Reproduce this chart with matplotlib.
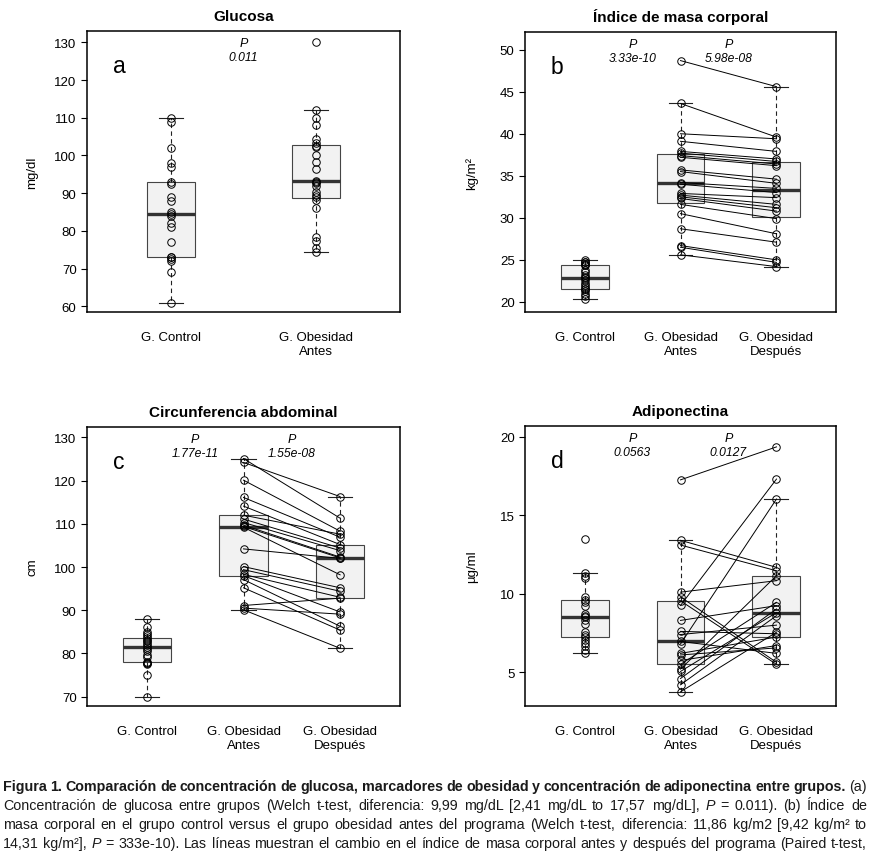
import matplotlib
matplotlib.use("Agg")
import matplotlib.pyplot as plt
from matplotlib import font_manager

# ---- values ----
glu_control = [61, 69, 72, 72.5, 73, 73.2, 77, 81, 82, 84, 84.6, 85, 88, 89, 92.4,
               93, 97, 98, 102, 109, 110]
glu_obese = [74.3, 75.4, 77.4, 78.3, 86.2, 88.3, 88.9, 89.6, 90.2, 92, 92.7, 93.0,
             93.2, 96.4, 98.2, 100, 102.3, 102.5, 103.2, 104.4, 108, 110, 112, 130]

bmi_control = [20.4, 20.7, 21.0, 21.3, 21.5, 21.5, 21.8, 22.0, 22.3, 22.6, 22.8, 23.0,
               23.2, 23.5, 23.8, 24.4, 24.4, 24.5, 24.7, 24.8, 25.0]
bmi_before = [48.7, 43.6, 40.0, 39.1, 37.9, 37.7, 37.4, 37.2, 35.7, 35.5, 34.2, 34.0,
              32.9, 32.7, 32.5, 32.3, 31.6, 30.5, 28.7, 26.7, 26.5, 25.6]
bmi_after = [45.6, 39.6, 39.4, 37.9, 37.0, 36.7, 36.4, 36.2, 34.6, 34.1, 33.5, 33.0,
             32.4, 31.6, 31.2, 30.8, 29.9, 28.1, 27.1, 25.0, 24.7, 24.2]

waist_control = [70, 75, 77.5, 77.8, 77.9, 78, 79.2, 79.7, 80.5, 81, 81.6, 82, 82.4,
                 82.8, 83.2, 83.6, 84, 84.4, 85, 86.2, 88]
waist_before = [125.1, 124.2, 120.1, 116.1, 114.1, 112.0, 111.1, 110.3, 109.7, 109.4,
                109.2, 104.2, 100.1, 99.4, 98.3, 98.0, 97.1, 95.2, 91.1, 90.5, 90.1]
waist_after = [111.3, 116.3, 108.3, 106.9, 105.2, 107.6, 104.4, 103.8, 102.3, 102.1,
               98.2, 102.0, 95.2, 94.4, 93.0, 89.6, 86.3, 85.4, 92.8, 89.1, 81.2]

adipo_control = [6.2, 6.43, 6.64, 6.85, 7.06, 7.23, 7.4, 7.55, 8.08, 8.3, 8.5, 8.55,
                 8.7, 9.24, 9.5, 9.63, 9.77, 11.0, 11.15, 11.3, 13.5]
adipo_before = [17.25, 13.4, 13.1, 10.1, 9.8, 9.55, 9.25, 8.3, 7.6, 7.4, 6.96, 6.8,
                6.2, 6.1, 5.75, 5.5, 5.2, 5.05, 4.6, 4.2, 3.75]
adipo_after = [19.35, 11.68, 11.46, 10.83, 5.63, 5.5, 17.3, 9.24, 7.45, 8.0, 6.2, 16.03,
               7.24, 6.55, 6.7, 9.45, 11.15, 8.8, 9.03, 8.6, 7.55]

labels2 = ["G. Control", "G. Obesidad\nAntes"]
labels3 = ["G. Control", "G. Obesidad\nAntes", "G. Obesidad\nDespués"]

p_glu = ["0.011"]
p_bmi = ["3.33e-10", "5.98e-08"]
p_waist = ["1.77e-11", "1.55e-08"]
p_adipo = ["0.0563", "0.0127"]

caption = [
    [("Figura 1. Comparación de concentración de glucosa, marcadores de obesidad y "
      "concentración de adiponectina entre grupos.", "bold"), ("(a)", "normal")],
    [("Concentración de glucosa entre grupos (Welch t-test, diferencia: 9,99 mg/dL "
      "[2,41 mg/dL to 17,57 mg/dL],", "normal"), ("P", "italic"),
     ("= 0.011). (b) Índice de", "normal")],
    [("masa corporal en el grupo control versus el grupo obesidad antes del programa "
      "(Welch t-test, diferencia: 11,86 kg/m2 [9,42 kg/m² to", "normal")],
    [("14,31 kg/m²],", "normal"), ("P", "italic"),
     ("= 333e-10). Las líneas muestran el cambio en el índice de masa corporal antes "
      "y después del programa (Paired t-test,", "normal")],
]

plt.rcParams['font.family'] = ['Liberation Sans', 'DejaVu Sans']

W, H = 871, 854
fig = plt.figure(figsize=(W / 100, H / 100), dpi=100)


def axes_px(left, top, right, bottom):
    return fig.add_axes([left / W, 1 - bottom / H, (right - left) / W, (bottom - top) / H])


def draw_panel(ax, groups, labels, width, title, ylab, letter, pvals, ylim, yticks,
               xlim, pairs=None):
    pos = list(range(1, len(groups) + 1))
    ax.boxplot(groups, positions=pos, widths=width, patch_artist=True,
               showfliers=False, whis=1.5, capwidths=width / 2, manage_ticks=False,
               boxprops=dict(facecolor='#f2f2f2', edgecolor='#454545', linewidth=0.8),
               medianprops=dict(color='#333333', linewidth=2.4, solid_capstyle='butt'),
               whiskerprops=dict(color='#222222', linewidth=0.8, linestyle=(0, (4, 3))),
               capprops=dict(color='#222222', linewidth=0.8))
    if pairs is not None:
        for b, a in zip(*pairs):
            ax.plot([2, 3], [b, a], color='black', lw=0.7, zorder=3)
    for p, vals in zip(pos, groups):
        ax.plot([p] * len(vals), vals, 'o', mfc='none', mec='black', ms=5.4,
                mew=0.7, zorder=4)
    ax.set_xlim(*xlim)
    ax.set_ylim(*ylim)
    ax.set_yticks(yticks)
    ax.set_xticks(pos)
    ax.set_xticklabels(labels, fontsize=9.5, va='top', linespacing=1.25)
    ax.tick_params(axis='x', length=0, pad=13.5)
    ax.tick_params(axis='y', length=4.5, width=0.8, labelsize=9.5, pad=3)
    for s in ax.spines.values():
        s.set_linewidth(1.1)
    ax.set_title(title, fontsize=11, fontweight='bold', pad=8)
    ax.set_ylabel(ylab, fontsize=9.5)
    ax.annotate(letter, xy=(0, 1), xycoords='axes fraction', xytext=(23, -29.5),
                textcoords='offset points', fontsize=16.5, ha='center', va='baseline')
    for i, pv in enumerate(pvals):
        x = 1.5 + i
        ax.annotate("P", xy=(x, 1), xycoords=('data', 'axes fraction'),
                    xytext=(0, -8.6), textcoords='offset points', fontsize=9,
                    style='italic', ha='center', va='center')
        ax.annotate(pv, xy=(x, 1), xycoords=('data', 'axes fraction'),
                    xytext=(0, -19), textcoords='offset points', fontsize=8.7,
                    style='italic', ha='center', va='center')


ax_a = axes_px(87, 32, 400, 313)
draw_panel(ax_a, [glu_control, glu_obese], labels2, 0.33, "Glucosa", "mg/dl", "a",
           p_glu, (58.5, 133.0), range(60, 131, 10), (0.42, 2.58))
ax_a.yaxis.set_label_coords(-0.155, 0.5)

ax_b = axes_px(525, 33, 836, 313)
draw_panel(ax_b, [bmi_control, bmi_before, bmi_after], labels3, 0.5,
           "Índice de masa corporal", "kg/m²", "b", p_bmi, (18.8, 52.1),
           range(20, 51, 5), (0.38, 3.62), pairs=(bmi_before, bmi_after))
ax_b.yaxis.set_label_coords(-0.15, 0.5)

ax_c = axes_px(87, 428, 400, 707)
draw_panel(ax_c, [waist_control, waist_before, waist_after], labels3, 0.5,
           "Circunferencia abdominal", "cm", "c", p_waist, (67.85, 132.4),
           range(70, 131, 10), (0.38, 3.62), pairs=(waist_before, waist_after))
ax_c.yaxis.set_label_coords(-0.155, 0.5)

ax_d = axes_px(525, 427, 836, 707)
draw_panel(ax_d, [adipo_control, adipo_before, adipo_after], labels3, 0.5,
           "Adiponectina", "µg/ml", "d", p_adipo, (2.85, 20.68),
           [5, 10, 15, 20], (0.38, 3.62), pairs=(adipo_before, adipo_after))
ax_d.yaxis.set_label_coords(-0.15, 0.5)

# ---- caption, justified word by word ----
names = {f.name for f in font_manager.fontManager.ttflist}
cap_family = 'Liberation Sans Narrow' if 'Liberation Sans Narrow' in names else 'Liberation Sans'
renderer = fig.canvas.get_renderer()
x0, x1 = 3, 867
line_y = [787, 806, 825, 844]

words_per_line = []
for segs in caption:
    toks = []
    for txt, sty in segs:
        for w in txt.split(" "):
            toks.append((w, sty))
    words_per_line.append(toks)

fs = 10.5
while True:
    ok = True
    measured = []
    for toks in words_per_line:
        row = []
        for w, sty in toks:
            t = fig.text(0, 0, w, fontsize=fs, family=cap_family,
                         fontweight='bold' if sty == 'bold' else 'normal',
                         style='italic' if sty == 'italic' else 'normal')
            row.append((t, t.get_window_extent(renderer=renderer).width))
        total = sum(wd for _, wd in row)
        gap = (x1 - x0 - total) / (len(row) - 1)
        measured.append((row, gap))
        if gap < 0.22 * fs * 100 / 72:
            ok = False
    if ok or fs < 6:
        break
    for row, _ in measured:
        for t, _ in row:
            t.remove()
    fs -= 0.25

for (row, gap), y in zip(measured, line_y):
    x = x0
    for t, wd in row:
        t.set_position((x / W, 1 - y / H))
        t.set_va('center')
        t.set_color('#1a1a1a')
        x += wd + gap

fig.savefig("out.png", dpi=100)
